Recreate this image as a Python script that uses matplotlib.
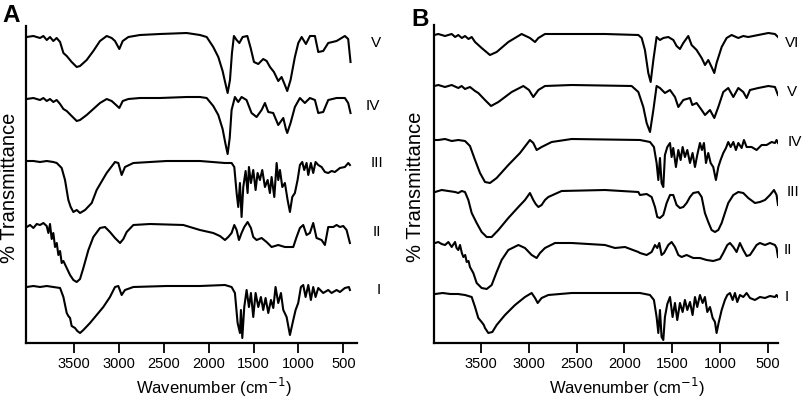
import matplotlib
matplotlib.use("Agg")
import matplotlib.pyplot as plt

plt.rcParams['font.family'] = ['Liberation Sans', 'DejaVu Sans']

# ---------------- data: panel A ----------------
wA_V = [4023,3949,3875,3838,3800,3764,3727,3690,3652,3615,3578,3523,3467,3430,3356,3282,3208,3133,3078,3041,
        2993,2955,2892,2763,2540,2244,2096,2021,1948,1892,1844,1814,1788,1762,1740,1718,1688,1658,1621,1569,
        1532,1495,1447,1392,1354,1317,1273,1225,1188,1151,1125,1088,1040,1002,965,917,872,817,780,725,
        669,576,484,447,421]
tA_V = [306,307,305,307,303,306,302,305,301,290,287,281,276,277,283,292,302,307,305,302,
        294,302,306,308,309,310,308,306,296,286,272,260,250,263,290,307,303,300,306,307,
        295,281,279,284,282,276,271,262,266,258,252,263,286,300,306,299,307,307,291,292,
        300,302,307,304,281]

wA_IV = [4023,3949,3875,3838,3800,3764,3727,3690,3652,3615,3578,3523,3467,3430,3356,3282,3208,3133,3078,3041,
         2993,2955,2892,2763,2540,2244,2096,2021,1948,1892,1844,1814,1788,1765,1744,1707,1670,1633,1578,1522,
         1466,1410,1373,1336,1281,1225,1169,1140,1125,1088,1040,984,929,873,817,780,725,669,576,484,
         447,421]
tA_IV = [244,245,243,245,242,244,241,243,239,234,232,227,222,223,228,234,240,244,242,239,
         235,242,244,245,245,246,246,245,237,228,214,200,189,205,233,246,241,246,243,230,
         226,233,240,231,230,218,225,214,210,220,236,245,240,245,243,230,231,243,245,245,
         240,230]

wA_III = [4023,3949,3875,3800,3727,3689,3634,3597,3560,3534,3504,3467,3430,3374,3300,3245,3134,3041,3004,2967,
          2930,2837,2467,2096,1818,1744,1714,1688,1670,1651,1633,1614,1588,1566,1551,1529,1503,1477,1455,1429,
          1403,1373,1343,1318,1299,1269,1243,1225,1206,1180,1151,1121,1095,1069,1040,1010,984,958,936,910,
          891,862,836,810,780,743,706,669,632,595,539,484,446,428]
tA_III = [182,182,181,182,181,180,175,163,143,136,131,133,130,133,140,153,170,181,180,168,
          176,180,182,182,180,180,176,150,136,160,126,156,172,150,176,160,173,153,170,163,
          173,156,163,150,166,146,180,163,173,156,160,143,131,146,150,163,178,181,173,180,
          168,180,170,181,178,176,171,170,172,171,175,176,180,178]

wA_II = [4023,3986,3949,3912,3875,3838,3801,3782,3764,3745,3727,3708,3689,3671,3652,3634,3615,3578,3541,3504,
         3467,3430,3393,3337,3282,3208,3152,3097,3041,2985,2948,2911,2837,2652,2281,2096,1948,1874,1818,1781,
         1744,1714,1688,1662,1633,1603,1566,1529,1503,1466,1410,1355,1299,1225,1151,1095,1058,1021,984,947,
         910,873,836,799,743,706,669,613,576,539,502,465,428]
tA_II = [116,118,115,119,118,120,117,110,119,104,110,96,100,88,92,80,82,75,68,63,
         61,64,75,93,106,115,116,111,105,100,104,111,118,119,118,113,110,107,103,106,
         110,118,113,103,110,116,121,115,106,103,105,101,96,98,96,96,96,106,115,118,
         108,110,120,105,103,98,116,116,118,116,117,113,100]

wA_I = [4023,3949,3875,3800,3727,3652,3615,3578,3560,3541,3523,3486,3460,3430,3393,3319,3245,3171,3097,3041,
        3004,2967,2930,2837,2467,2096,1818,1744,1707,1677,1651,1640,1625,1603,1577,1551,1529,1503,1477,1447,
        1418,1392,1366,1336,1306,1280,1255,1225,1195,1169,1132,1095,1058,1032,1003,973,947,921,891,862,
        836,810,780,725,669,632,576,539,484,439,428]
tA_I = [56,57,56,57,56,55,46,30,27,25,17,15,12,10,13,20,28,36,46,56,
        57,48,53,56,57,57,58,56,50,20,10,33,5,36,53,36,50,26,50,36,
        46,33,45,30,43,35,56,40,50,33,26,8,23,33,40,56,58,46,58,43,
        56,46,55,50,53,50,53,51,55,56,53]

# ---------------- data: panel B ----------------
wB_VI = [3987,3946,3876,3806,3770,3737,3700,3667,3630,3597,3562,3493,3406,3336,3214,3075,2988,2935,2900,2831,
         2552,2204,1855,1820,1786,1751,1726,1698,1664,1629,1594,1542,1489,1455,1420,1385,1333,1298,1246,1193,
         1158,1124,1089,1061,1037,984,932,880,810,758,706,601,496,427,395]
tB_VI = [308,309,307,309,306,308,305,307,304,306,301,295,288,291,301,309,305,301,305,309,
         309,309,308,305,293,270,261,283,306,303,305,306,303,297,294,300,307,298,293,285,
         278,283,276,270,280,296,305,308,305,307,306,308,310,309,306]

wB_V = [3987,3946,3876,3806,3737,3702,3667,3615,3562,3528,3458,3395,3318,3179,3057,2998,2953,2900,2831,2552,
        1925,1855,1803,1768,1733,1698,1664,1629,1577,1524,1472,1437,1385,1315,1291,1246,1193,1158,1106,1061,
        1019,967,915,862,810,758,723,688,601,496,427,395]
tB_V = [257,258,256,258,255,257,254,256,252,250,243,237,241,251,257,253,246,253,257,258,
        257,251,236,220,211,233,257,255,250,253,246,236,243,245,238,240,233,228,233,225,
        236,251,255,246,255,251,245,253,255,257,256,248]

wB_IV = [3987,3946,3876,3806,3737,3667,3615,3562,3510,3458,3406,3336,3214,3092,2988,2953,2918,2866,2761,2552,
         1838,1733,1692,1664,1646,1629,1612,1594,1577,1552,1524,1507,1490,1462,1437,1413,1392,1368,1343,1315,
         1288,1263,1239,1211,1190,1169,1148,1124,1099,1072,1044,1019,995,967,939,915,890,862,835,810,
         775,751,723,671,619,566,514,462,427,410,395]
tB_IV = [203,203,204,202,203,202,197,183,170,161,160,165,178,190,203,200,193,196,201,204,
         203,201,196,180,163,185,160,156,188,196,200,186,195,176,193,183,196,186,193,180,
         190,176,188,200,193,200,180,190,180,176,163,176,183,190,195,201,196,201,193,200,
         195,203,196,196,193,198,198,201,200,203,200]

wB_III = [3980,3911,3841,3771,3737,3702,3667,3632,3597,3545,3493,3440,3388,3318,3214,3109,3040,2988,2953,2928,
          2900,2866,2831,2796,2657,2204,1855,1838,1768,1716,1681,1657,1629,1594,1559,1524,1490,1455,1420,1385,
          1350,1315,1281,1228,1193,1159,1124,1089,1054,1019,984,950,915,862,810,758,706,636,584,531,
          479,437,410,395]
tB_III = [151,153,152,151,150,152,151,143,130,120,111,106,106,113,125,136,143,150,143,139,
          136,138,143,146,152,153,151,148,149,146,136,126,125,128,140,148,148,138,135,136,
          140,146,150,151,146,130,121,113,111,113,120,130,140,148,151,150,145,140,141,143,
          148,153,148,138]

wB_II = [3980,3946,3911,3876,3841,3806,3771,3755,3737,3719,3700,3684,3665,3649,3630,3615,3580,3545,3493,3440,
         3388,3336,3284,3214,3109,3040,2970,2918,2883,2831,2726,2552,2204,2099,1995,1855,1838,1768,1716,1681,
         1657,1636,1612,1587,1542,1507,1472,1437,1403,1350,1281,1211,1141,1072,1002,967,925,897,862,828,
         793,758,723,688,653,619,584,531,479,427,410,395]
tB_II = [100,101,99,98,101,96,101,95,93,98,90,86,88,81,82,76,70,60,55,54,
         58,71,83,93,98,95,88,85,90,95,100,100,98,95,96,91,90,88,91,98,
         95,100,88,90,98,101,96,88,86,88,85,85,83,82,84,90,98,100,96,91,
         100,93,87,88,93,98,100,98,100,98,95,86]

wB_I = [3980,3900,3820,3740,3667,3597,3562,3528,3493,3470,3458,3423,3381,3336,3249,3144,3040,2970,2935,2907,
        2866,2796,2552,2200,1838,1733,1692,1664,1646,1629,1612,1594,1577,1552,1524,1497,1472,1448,1420,1392,
        1368,1343,1315,1288,1263,1239,1211,1183,1159,1134,1106,1078,1054,1037,1016,984,950,925,897,869,
        845,821,793,758,723,688,636,584,531,479,427,410,395]
tB_I = [49,50,49,49,48,46,36,25,21,18,15,10,11,18,28,38,46,50,45,40,
        45,48,50,50,50,48,43,26,10,33,6,3,26,39,46,26,40,23,40,31,
        43,33,41,28,46,36,48,40,46,31,36,25,21,10,20,33,43,48,50,43,
        50,41,48,46,50,45,43,46,45,47,46,48,46]

ticks = [3500, 3000, 2500, 2000, 1500, 1000, 500]
labels_A = ["V", "IV", "III", "II", "I"]
labels_B = ["VI", "V", "IV", "III", "II", "I"]

seriesA = [(wA_V, tA_V), (wA_IV, tA_IV), (wA_III, tA_III), (wA_II, tA_II), (wA_I, tA_I)]
seriesB = [(wB_VI, tB_VI), (wB_V, tB_V), (wB_IV, tB_IV), (wB_III, tB_III), (wB_II, tB_II), (wB_I, tB_I)]

W, H = 810, 401
fig = plt.figure(figsize=(W / 100, H / 100), dpi=100)
axA = fig.add_axes([26 / W, 58 / H, 331 / W, 317 / H])
axB = fig.add_axes([434 / W, 58 / H, 344 / W, 318 / H])

def style(ax, xlim, ytop):
    ax.set_xlim(*xlim)
    ax.set_ylim(0, ytop)
    for s in ("top", "right"):
        ax.spines[s].set_visible(False)
    for s in ("left", "bottom"):
        ax.spines[s].set_linewidth(1.6)
    ax.set_yticks([])
    ax.set_xticks(ticks)
    ax.set_xticklabels([str(t) for t in ticks])
    ax.tick_params(axis="x", direction="out", length=7, width=1.3, labelsize=10.5, pad=3)
    ax.set_xlabel("Wavenumber (cm$^{-1}$)", fontsize=12)

for w, t in seriesA:
    axA.plot(w, t, color="black", lw=1.5, solid_joinstyle="round")
for w, t in seriesB:
    axB.plot(w, t, color="black", lw=1.5, solid_joinstyle="round")

style(axA, (4031, 349), 317)
style(axB, (3991, 395), 318)
axA.xaxis.set_label_coords(0.567, -0.105)
axB.xaxis.set_label_coords(0.561, -0.105)

# y labels
fig.text(9.5 / W, 1 - 187.5 / H, "% Transmittance", rotation=90, ha="center", va="center", fontsize=14.5)
fig.text(415 / W, 1 - 187 / H, "% Transmittance", rotation=90, ha="center", va="center", fontsize=14.5)

# panel letters
fig.text(11 / W, 1 - 15.5 / H, "A", ha="center", va="center", fontsize=17.5, fontweight="bold")
fig.text(420 / W, 1 - 19.5 / H, "B", ha="center", va="center", fontsize=17.5, fontweight="bold")

# sample labels
posA = [(376, 43), (373, 106), (377, 163), (377, 232), (379, 290)]
posB = [(792, 43), (792, 92), (795, 142), (793, 192), (788, 250), (787, 297)]
for lab, (x, y) in zip(labels_A, posA):
    fig.text(x / W, 1 - y / H, lab, ha="center", va="center", fontsize=11)
for lab, (x, y) in zip(labels_B, posB):
    fig.text(x / W, 1 - y / H, lab, ha="center", va="center", fontsize=11)

fig.savefig("out.png", dpi=100)
